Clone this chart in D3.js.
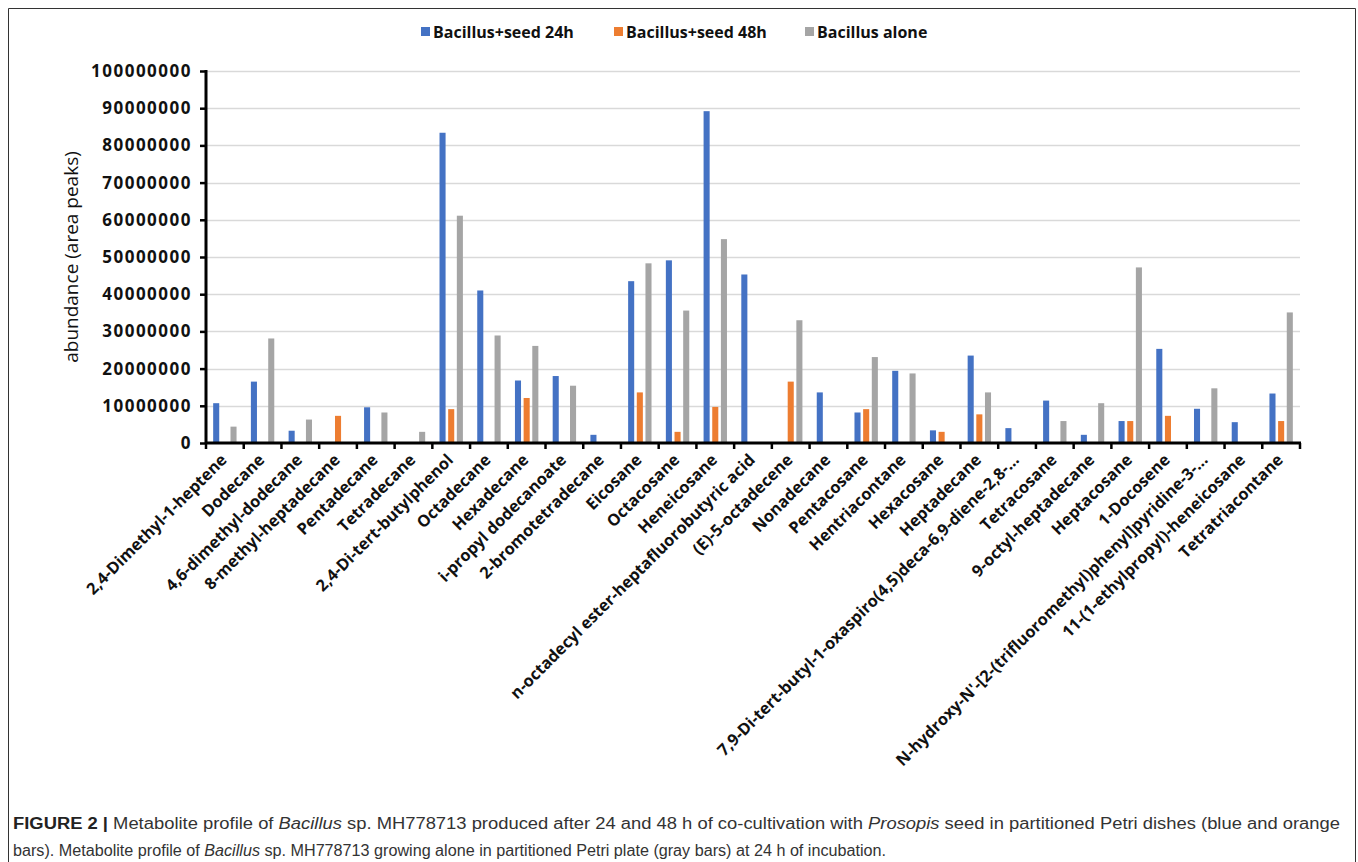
<!DOCTYPE html>
<html>
<head>
<meta charset="utf-8">
<script src="https://cdn.jsdelivr.net/npm/d3@7"></script>
<style>
  body { margin: 0; background: #fff; }
  svg { display: block; }
</style>
</head>
<body>
<div id="chart"></div>
<script>
// metabolites on the x axis
const categories = [
  "2,4-Dimethyl-1-heptene", "Dodecane", "4,6-dimethyl-dodecane", "8-methyl-heptadecane",
  "Pentadecane", "Tetradecane", "2,4-Di-tert-butylphenol", "Octadecane", "Hexadecane",
  "i-propyl dodecanoate", "2-bromotetradecane", "Eicosane", "Octacosane", "Heneicosane",
  "n-octadecyl ester-heptafluorobutyric acid", "(E)-5-octadecene", "Nonadecane",
  "Pentacosane", "Hentriacontane", "Hexacosane", "Heptadecane",
  "7,9-Di-tert-butyl-1-oxaspiro(4,5)deca-6,9-diene-2,8-...", "Tetracosane",
  "9-octyl-heptadecane", "Heptacosane", "1-Docosene",
  "N-hydroxy-N'-[2-(trifluoromethyl)phenyl]pyridine-3-...",
  "11-(1-ethylpropyl)-heneicosane", "Tetratriacontane"
];

// abundance (area peaks)
const seed24 = [10700000, 16500000, 3300000, 0, 9600000, 0, 83400000, 41000000, 16800000,
  18000000, 2200000, 43500000, 49100000, 89200000, 45300000, 0, 13600000, 8200000,
  19400000, 3400000, 23500000, 4000000, 11400000, 2200000, 5900000, 25300000, 9200000,
  5600000, 13300000];
const seed48 = [0, 0, 0, 7300000, 0, 0, 9100000, 0, 12100000, 0, 0, 13600000, 3000000,
  9700000, 0, 16500000, 0, 9100000, 0, 3000000, 7700000, 0, 0, 0, 5900000, 7300000, 0,
  0, 5900000];
const alone = [4400000, 28100000, 6300000, 0, 8200000, 3000000, 61100000, 28900000,
  26100000, 15400000, 0, 48300000, 35600000, 54800000, 0, 33000000, 0, 23100000,
  18700000, 0, 13600000, 0, 5900000, 10700000, 47200000, 0, 14700000, 0, 35100000];

const seriesNames = ["Bacillus+seed 24h", "Bacillus+seed 48h", "Bacillus alone"];
const seriesColors = ["#4472C4", "#ED7D31", "#A5A5A5"];
const yTicks = [0, 10000000, 20000000, 30000000, 40000000, 50000000, 60000000,
  70000000, 80000000, 90000000, 100000000];

const W = 1358, H = 862;
const plot = { left: 206, right: 1300, top: 71, bottom: 443 };
const font = "'Open Sans', 'DejaVu Sans', sans-serif";

const svg = d3.select("#chart").append("svg")
  .attr("width", W)
  .attr("height", H);

svg.append("rect").attr("width", W).attr("height", H).attr("fill", "#fff");

// outer frame of the figure
svg.append("path")
  .attr("d", `M8.5,${H} V8.5 H1355.5 V${H}`)
  .attr("fill", "none")
  .attr("stroke", "#333")
  .attr("stroke-width", 1);

const series = seriesNames.map((name, i) => ({
  name: name,
  color: seriesColors[i],
  values: [seed24, seed48, alone][i]
}));

// scales
const x0 = d3.scaleBand()
  .domain(categories)
  .range([plot.left, plot.right])
  .paddingInner(0.38)
  .paddingOuter(0.19);

const x1 = d3.scaleBand()
  .domain(seriesNames)
  .range([0, x0.bandwidth()])
  .paddingInner(0.3);

const y = d3.scaleLinear()
  .domain([0, 100000000])
  .range([plot.bottom, plot.top]);

// gridlines
svg.append("g")
  .selectAll("line")
  .data(yTicks.slice(1))
  .join("line")
  .attr("x1", plot.left)
  .attr("x2", plot.right)
  .attr("y1", d => Math.round(y(d)) + 0.5)
  .attr("y2", d => Math.round(y(d)) + 0.5)
  .attr("stroke", "#D9D9D9")
  .attr("stroke-width", 1.5);

// bars
const groups = svg.append("g")
  .selectAll("g")
  .data(series)
  .join("g")
  .attr("fill", d => d.color);

groups.selectAll("rect")
  .data(d => d.values.map((v, i) => ({ cat: categories[i], value: v, name: d.name })).filter(e => e.value > 0))
  .join("rect")
  .attr("x", d => x0(d.cat) + x1(d.name))
  .attr("y", d => y(d.value))
  .attr("width", x1.bandwidth())
  .attr("height", d => y(0) - y(d.value));

// y axis
const yAxis = svg.append("g")
  .attr("transform", `translate(${plot.left},0)`)
  .call(d3.axisLeft(y).tickValues(yTicks).tickSize(6).tickPadding(8).tickFormat(d3.format("d")));

yAxis.select(".domain").attr("stroke", "#000").attr("stroke-width", 3)
  .attr("d", `M0,${plot.top - 1}V${plot.bottom}`);
yAxis.selectAll(".tick line").attr("stroke", "#000").attr("stroke-width", 2.5);
yAxis.selectAll(".tick text")
  .attr("fill", "#111")
  .style("font-family", font)
  .style("font-weight", "bold")
  .style("font-size", "17px")
  .style("letter-spacing", "1.5px");

// x axis: line with ticks between categories
const xAxis = svg.append("g");
xAxis.append("line")
  .attr("x1", plot.left - 1)
  .attr("x2", plot.right + 1)
  .attr("y1", plot.bottom)
  .attr("y2", plot.bottom)
  .attr("stroke", "#000")
  .attr("stroke-width", 3);

const boundaries = categories.map(c => x0(c) - x0.step() * x0.paddingInner() / 2)
  .concat([plot.right]);
xAxis.selectAll(".xt")
  .data(boundaries)
  .join("line")
  .attr("class", "xt")
  .attr("x1", d => d)
  .attr("x2", d => d)
  .attr("y1", plot.bottom)
  .attr("y2", plot.bottom + 6)
  .attr("stroke", "#000")
  .attr("stroke-width", 2.5);

xAxis.selectAll(".xl")
  .data(categories)
  .join("text")
  .attr("class", "xl")
  .attr("transform", d => `translate(${x0(d) + x0.bandwidth() / 2 + 3},${plot.bottom + 18}) rotate(-45)`)
  .attr("text-anchor", "end")
  .attr("fill", "#111")
  .style("font-family", font)
  .style("font-weight", "bold")
  .style("font-size", "16.3px")
  .text(d => d);

// y axis title
svg.append("text")
  .attr("transform", `translate(78,${(plot.top + plot.bottom) / 2}) rotate(-90)`)
  .attr("text-anchor", "middle")
  .attr("fill", "#111")
  .style("font-family", font)
  .style("font-size", "19px")
  .text("abundance (area peaks)");

// legend
const legendX = [421, 614, 805];
const legend = svg.append("g")
  .selectAll("g")
  .data(series)
  .join("g")
  .attr("transform", (d, i) => `translate(${legendX[i]},32)`);

legend.append("rect")
  .attr("x", 0)
  .attr("y", -5)
  .attr("width", 9)
  .attr("height", 9)
  .attr("fill", d => d.color);

legend.append("text")
  .attr("x", 12)
  .attr("y", 5.5)
  .attr("fill", "#111")
  .style("font-family", font)
  .style("font-weight", "bold")
  .style("font-size", "16px")
  .text(d => d.name);

// caption
const capFont = "'Liberation Sans', Arial, sans-serif";
const cap1 = svg.append("text")
  .attr("x", 13)
  .attr("y", 829)
  .attr("fill", "#333")
  .attr("textLength", 1327)
  .attr("lengthAdjust", "spacingAndGlyphs")
  .style("font-family", capFont)
  .style("font-size", "16px");
cap1.append("tspan").attr("font-weight", "bold").attr("fill", "#222").text("FIGURE 2 | ");
cap1.append("tspan").text("Metabolite profile of ");
cap1.append("tspan").attr("font-style", "italic").text("Bacillus");
cap1.append("tspan").text(" sp. MH778713 produced after 24 and 48 h of co-cultivation with ");
cap1.append("tspan").attr("font-style", "italic").text("Prosopis");
cap1.append("tspan").text(" seed in partitioned Petri dishes (blue and orange");

const cap2 = svg.append("text")
  .attr("x", 13)
  .attr("y", 856)
  .attr("fill", "#333")
  .attr("textLength", 873)
  .attr("lengthAdjust", "spacingAndGlyphs")
  .style("font-family", capFont)
  .style("font-size", "16px");
cap2.append("tspan").text("bars). Metabolite profile of ");
cap2.append("tspan").attr("font-style", "italic").text("Bacillus");
cap2.append("tspan").text(" sp. MH778713 growing alone in partitioned Petri plate (gray bars) at 24 h of incubation.");
</script>
</body>
</html>
